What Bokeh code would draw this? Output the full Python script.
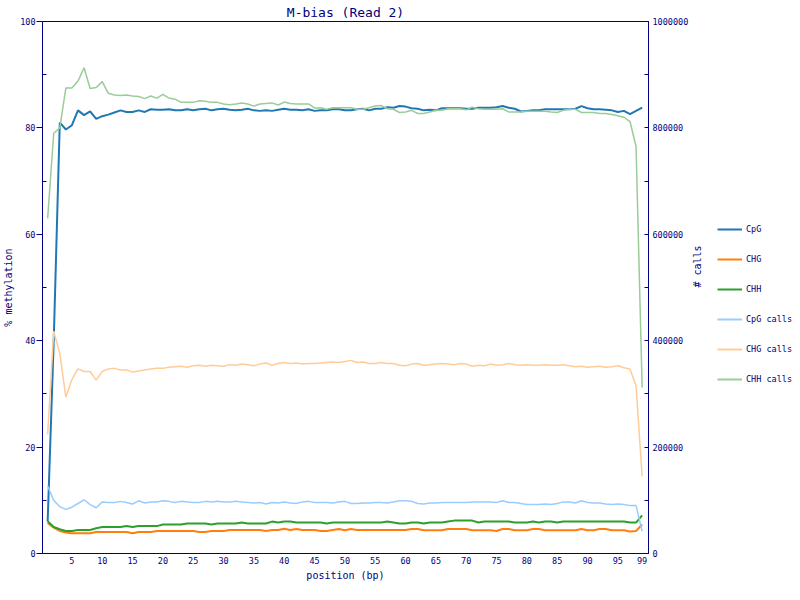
import math
from bokeh.plotting import figure
from bokeh.layouts import row
from bokeh.models import (Range1d, LinearAxis, FixedTicker, Legend, LegendItem,
                          BasicTickFormatter, ColumnDataSource)
from bokeh.embed import file_html
from bokeh.resources import INLINE

positions = list(range(1, 100))

cpg = [6.0, 40.0, 81.0, 79.7, 80.5, 83.3, 82.4, 83.1, 81.7, 82.2,
       82.5, 82.9, 83.3, 83.0, 83.0, 83.3, 83.0, 83.5, 83.4, 83.4,
       83.5, 83.3, 83.3, 83.5, 83.3, 83.5, 83.6, 83.3, 83.5, 83.6,
       83.4, 83.3, 83.4, 83.6, 83.3, 83.2, 83.3, 83.2, 83.4, 83.6,
       83.4, 83.4, 83.3, 83.5, 83.2, 83.3, 83.3, 83.5, 83.5, 83.3,
       83.3, 83.5, 83.6, 83.3, 83.6, 83.6, 83.9, 83.8, 84.1, 84.0,
       83.7, 83.6, 83.3, 83.4, 83.3, 83.7, 83.7, 83.7, 83.7, 83.6,
       83.6, 83.8, 83.8, 83.8, 83.9, 84.1, 83.8, 83.6, 83.1, 83.2,
       83.3, 83.3, 83.5, 83.5, 83.5, 83.5, 83.5, 83.6, 84.1, 83.7,
       83.5, 83.5, 83.4, 83.3, 83.0, 83.2, 82.6, 83.2, 83.8]

chg = [5.76, 4.85, 4.24, 3.94, 3.82, 3.82, 3.82, 3.82, 4.06, 4.06,
       4.06, 4.06, 4.06, 4.06, 3.82, 4.06, 4.06, 4.06, 4.24, 4.24,
       4.24, 4.24, 4.24, 4.24, 4.24, 4.06, 4.06, 4.24, 4.24, 4.24,
       4.42, 4.42, 4.42, 4.42, 4.42, 4.42, 4.24, 4.42, 4.42, 4.67,
       4.42, 4.60, 4.42, 4.42, 4.42, 4.24, 4.24, 4.42, 4.60, 4.36,
       4.60, 4.42, 4.42, 4.42, 4.42, 4.42, 4.42, 4.42, 4.42, 4.42,
       4.61, 4.61, 4.36, 4.36, 4.36, 4.36, 4.61, 4.61, 4.61, 4.61,
       4.36, 4.36, 4.36, 4.36, 4.24, 4.61, 4.61, 4.36, 4.36, 4.36,
       4.61, 4.61, 4.36, 4.36, 4.36, 4.36, 4.36, 4.36, 4.61, 4.36,
       4.36, 4.61, 4.61, 4.36, 4.36, 4.36, 4.12, 4.24, 5.45]

chh = [6.06, 4.97, 4.55, 4.24, 4.24, 4.42, 4.42, 4.42, 4.73, 4.97,
       4.97, 4.97, 4.97, 5.15, 4.97, 5.15, 5.15, 5.15, 5.15, 5.45,
       5.45, 5.45, 5.45, 5.64, 5.64, 5.64, 5.64, 5.45, 5.64, 5.64,
       5.64, 5.64, 5.82, 5.64, 5.64, 5.64, 5.64, 6.00, 5.82, 6.00,
       6.00, 5.82, 5.82, 5.82, 5.82, 5.82, 5.64, 5.82, 5.82, 5.82,
       5.82, 5.82, 5.82, 5.82, 5.82, 5.82, 6.00, 5.82, 5.64, 5.64,
       5.82, 5.82, 5.64, 5.82, 5.82, 5.82, 6.00, 6.18, 6.18, 6.18,
       6.18, 5.82, 6.00, 6.00, 6.00, 6.00, 6.00, 5.82, 5.82, 5.82,
       6.00, 5.82, 6.00, 6.00, 5.82, 6.00, 6.00, 6.00, 6.00, 6.00,
       6.00, 6.00, 6.00, 6.00, 6.00, 6.00, 5.82, 5.82, 7.15]

cpg_calls = [127000, 100000, 88000, 83000, 87000, 94000, 101000, 92000, 86000, 97000,
             96000, 96000, 98000, 96000, 93000, 99000, 95000, 97000, 97000, 99000,
             98000, 96000, 98000, 97000, 96000, 96000, 98000, 97000, 98000, 97000,
             97000, 98000, 97000, 96000, 95000, 96000, 93000, 96000, 95000, 97000,
             95000, 94000, 97000, 98000, 96000, 96000, 96000, 95000, 97000, 98000,
             94000, 94000, 95000, 95000, 96000, 96000, 95000, 97000, 99000, 99000,
             98000, 94000, 93000, 95000, 95000, 96000, 96000, 96000, 96000, 96000,
             97000, 97000, 97000, 97000, 96000, 99000, 96000, 96000, 94000, 92000,
             92000, 92000, 93000, 92000, 94000, 97000, 97000, 95000, 99000, 96000,
             95000, 95000, 93000, 92000, 93000, 92000, 90000, 90000, 42000]

chg_calls = [224000, 418000, 376000, 294000, 327000, 347000, 342000, 342000, 326000, 342000,
             347000, 348000, 345000, 345000, 341000, 343000, 345000, 347000, 348000, 348000,
             350000, 351000, 352000, 350000, 353000, 354000, 352000, 354000, 353000, 352000,
             355000, 354000, 356000, 355000, 353000, 356000, 358000, 354000, 357000, 359000,
             357000, 358000, 356000, 357000, 357000, 358000, 359000, 360000, 359000, 361000,
             363000, 359000, 360000, 357000, 357000, 359000, 357000, 357000, 354000, 353000,
             356000, 357000, 354000, 355000, 356000, 357000, 356000, 355000, 357000, 356000,
             352000, 354000, 353000, 356000, 354000, 355000, 357000, 355000, 354000, 355000,
             354000, 354000, 355000, 354000, 354000, 355000, 353000, 351000, 352000, 350000,
             351000, 352000, 350000, 351000, 353000, 349000, 347000, 315000, 145000]

chh_calls = [630000, 790000, 800000, 875000, 875000, 888000, 913000, 874000, 876000, 887000,
             865000, 862000, 861000, 862000, 860000, 859000, 855000, 860000, 856000, 863000,
             856000, 854000, 848000, 848000, 848000, 851000, 850000, 848000, 848000, 845000,
             843600, 845000, 846700, 845000, 841000, 845000, 846000, 847000, 843000, 848500,
             846000, 845000, 845000, 845000, 837600, 838000, 835000, 838000, 838000, 838000,
             838000, 835000, 835000, 838000, 841000, 842000, 836000, 835000, 829000, 830000,
             833000, 827000, 827000, 830000, 833000, 833000, 836000, 836000, 836000, 834000,
             839000, 836000, 835000, 835000, 835000, 836000, 830000, 830000, 830000, 831500,
             831500, 831500, 831500, 830000, 829000, 833000, 835000, 835000, 829000, 829000,
             829000, 827000, 827000, 825000, 823000, 820000, 812000, 765000, 312000]

x_ticks = [5, 10, 15, 20, 25, 30, 35, 40, 45, 50, 55, 60, 65, 70, 75, 80, 85, 90, 95, 99]
left_ticks = [0, 20, 40, 60, 80, 100]
left_minor = [10, 30, 50, 70, 90]
right_ticks = [0, 200000, 400000, 600000, 800000, 1000000]
right_minor = [100000, 300000, 500000, 700000, 900000]

series_names = ["CpG", "CHG", "CHH", "CpG calls", "CHG calls", "CHH calls"]
series_colors = ["#1f77b4", "#ff7f0e", "#2ca02c", "#99ccff", "#ffcc99", "#99cc99"]
series_widths = [2, 2, 2, 1.5, 1.5, 1.5]

NAVY = "#000080"
FONT = "DejaVu Sans Mono"
FW, FH = 606, 532

p = figure(frame_width=FW, frame_height=FH, output_backend="svg", toolbar_location=None,
           x_range=Range1d(0.15, 100.05), y_range=Range1d(0, 100),
           title="M-bias (Read 2)")
p.extra_y_ranges = {"calls": Range1d(0, 1000000)}
p.min_border_left = 0
p.min_border_right = 0
p.min_border_top = 0
p.min_border_bottom = 0
p.background_fill_color = "white"
p.border_fill_color = "white"
p.grid.visible = False
p.outline_line_color = NAVY
p.outline_line_width = 1

p.title.text_font = FONT
p.title.text_font_size = "13px"
p.title.text_font_style = "normal"
p.title.text_color = NAVY
p.title.align = "center"
p.title.standoff = 4

def style_axis(ax):
    ax.axis_line_color = NAVY
    ax.major_tick_line_color = NAVY
    ax.minor_tick_line_color = NAVY
    ax.major_label_text_font = FONT
    ax.major_label_text_font_size = "8.5px"
    ax.major_label_text_color = NAVY
    ax.axis_label_text_font = FONT
    ax.axis_label_text_font_size = "10px"
    ax.axis_label_text_font_style = "normal"
    ax.axis_label_text_color = NAVY

xa = p.xaxis[0]
style_axis(xa)
xa.ticker = FixedTicker(ticks=x_ticks, minor_ticks=[])
xa.major_tick_line_color = None
xa.minor_tick_line_color = None
xa.major_tick_out = 0
xa.minor_tick_out = 0
xa.major_label_standoff = 3
xa.axis_label = "position (bp)"
xa.axis_label_standoff = 3

ya = p.yaxis[0]
style_axis(ya)
ya.ticker = FixedTicker(ticks=left_ticks, minor_ticks=left_minor)
ya.major_tick_out = 6
ya.major_tick_in = 0
ya.minor_tick_out = 0
ya.minor_tick_in = 4
ya.major_label_standoff = 1
ya.axis_label = "% methylation"
ya.axis_label_standoff = 3

ra = LinearAxis(y_range_name="calls",
                ticker=FixedTicker(ticks=right_ticks, minor_ticks=right_minor),
                formatter=BasicTickFormatter(use_scientific=False))
style_axis(ra)
ra.major_tick_out = 0
ra.major_tick_in = 4
ra.minor_tick_out = 0
ra.minor_tick_in = 4
ra.major_label_standoff = 4
ra.axis_label = "# calls"
ra.axis_label_standoff = 6
if "axis_label_orientation" in ra.properties():
    ra.axis_label_orientation = math.pi / 2
p.add_layout(ra, "right")

src = ColumnDataSource(dict(pos=positions, cpg=cpg, chg=chg, chh=chh,
                            cpg_calls=cpg_calls, chg_calls=chg_calls, chh_calls=chh_calls))
cols = ["cpg", "chg", "chh", "cpg_calls", "chg_calls", "chh_calls"]
for i, c in enumerate(cols):
    kw = {} if i < 3 else {"y_range_name": "calls"}
    p.line("pos", c, source=src, line_color=series_colors[i],
           line_width=series_widths[i], **kw)

# legend panel: a small companion figure with style-only renderers (NaN data, nothing drawn)
lf = figure(width=86, height=584, output_backend="svg", toolbar_location=None,
            x_range=Range1d(0, 1), y_range=Range1d(0, 1),
            x_axis_type=None, y_axis_type=None)
lf.min_border_left = 0
lf.min_border_right = 0
lf.min_border_top = 0
lf.min_border_bottom = 0
lf.outline_line_color = None
lf.grid.visible = False
lf.background_fill_color = "white"
lf.border_fill_color = "white"
nan_src = ColumnDataSource(dict(x=[float("nan")], y=[float("nan")]))
items = []
for n, col in zip(series_names, series_colors):
    r = lf.line("x", "y", source=nan_src, line_color=col, line_width=2)
    items.append(LegendItem(label=n, renderers=[r]))

legend = Legend(items=items, location=(6, 165))
legend.margin = 0
legend.padding = 0
legend.spacing = 10
legend.glyph_width = 25
legend.glyph_height = 20
legend.label_height = 20
legend.label_standoff = 4
legend.border_line_color = None
legend.background_fill_alpha = 0
legend.label_text_font = FONT
legend.label_text_font_size = "8.5px"
legend.label_text_color = NAVY
lf.add_layout(legend)

layout = row(p, lf)
open("out.html", "w").write(file_html(layout, INLINE))
